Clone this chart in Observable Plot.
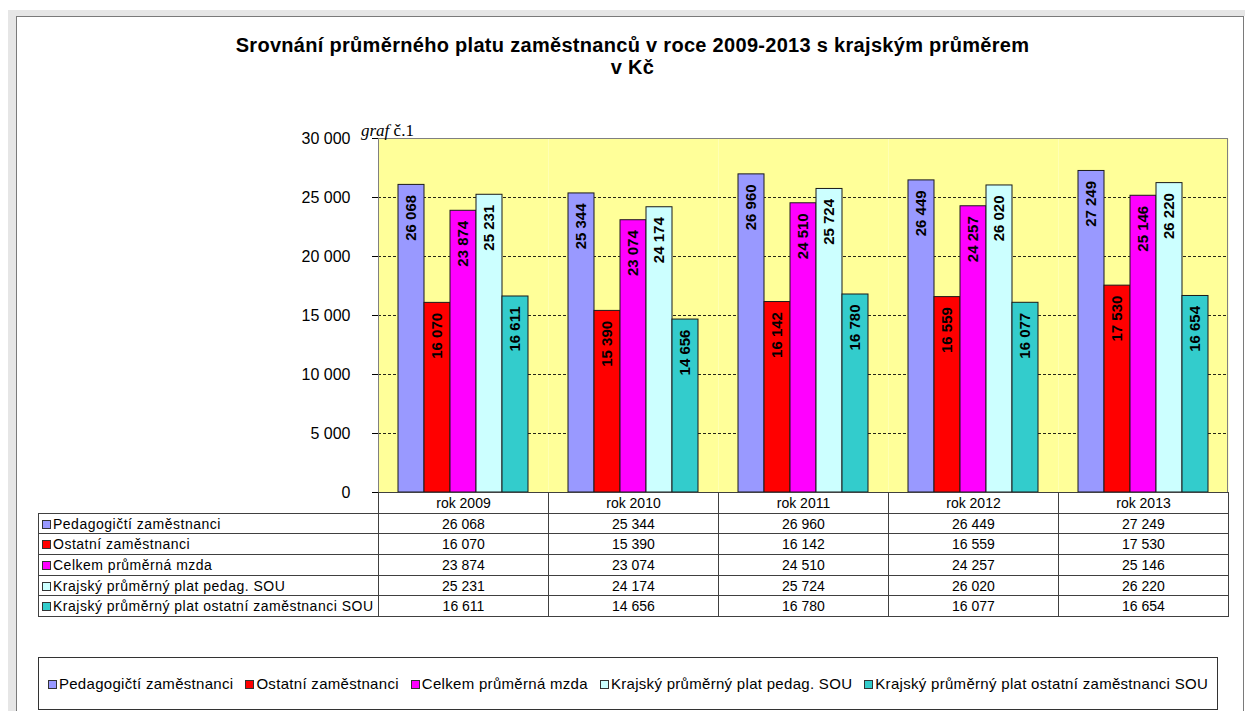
<!DOCTYPE html>
<html><head><meta charset="utf-8">
<script src="https://cdn.jsdelivr.net/npm/d3@7"></script>
<script src="https://cdn.jsdelivr.net/npm/@observablehq/plot@0.6"></script>
<style>
body{margin:0;background:#fff;font-family:Arial,"Liberation Sans",sans-serif;}
#wrap{position:relative;width:1245px;height:711px;overflow:hidden;background:#fff;}
#frameA{position:absolute;left:8px;top:10px;width:1240px;height:710px;border-left:8px solid #e6e6e6;border-top:6px solid #e6e6e6;}
#frameB{position:absolute;left:16px;top:16px;width:1226px;height:700px;border-left:1px solid #7a7a7a;border-top:1px solid #7a7a7a;border-right:1px solid #7a7a7a;}
#title{position:absolute;left:20px;top:34px;width:1225px;text-align:center;font-weight:bold;font-size:20px;letter-spacing:0.3px;line-height:22px;color:#000;}
#graf{position:absolute;left:361px;top:121px;font-family:"Liberation Serif","DejaVu Serif",serif;font-size:17px;color:#000;}
#chart{position:absolute;left:0;top:0;}
#box{position:absolute;left:378px;top:138px;width:850px;height:354px;box-sizing:border-box;border:1px solid #808080;border-bottom:none;pointer-events:none;}
#dt{position:absolute;left:38px;top:492px;border-collapse:collapse;font-size:14px;color:#000;table-layout:fixed;}
#dt td{border:1px solid #404040;padding:0;height:19.7px;line-height:14px;text-align:center;white-space:nowrap;}
#dt td.lab{text-align:left;letter-spacing:0.5px;padding-left:3px;}
#dt td.blank{border:none;}
.sq{display:inline-block;width:7px;height:7px;border:1px solid #333;margin-right:2px;vertical-align:0px;}
#legend{position:absolute;left:38px;top:657px;width:1180px;height:53px;box-sizing:border-box;border:1px solid #333;display:flex;align-items:center;justify-content:center;gap:12px;font-size:15px;letter-spacing:0.3px;color:#000;white-space:nowrap;}
</style></head><body>
<div id="wrap">
  <div id="frameA"></div><div id="frameB"></div>
  <div id="title">Srovnání průměrného platu zaměstnanců v roce 2009-2013 s krajským průměrem<br>v Kč</div>
  <div id="chart"></div>
  <div id="box"></div>
  <div id="graf"><i>graf</i> č.1</div>
  <table id="dt"></table>
  <div id="legend"></div>
</div>
<script>
const years = ["rok 2009", "rok 2010", "rok 2011", "rok 2012", "rok 2013"];
const series = ["Pedagogičtí zaměstnanci", "Ostatní zaměstnanci", "Celkem průměrná mzda", "Krajský průměrný plat pedag. SOU", "Krajský průměrný plat ostatní zaměstnanci SOU"];
const pedagogicti = [26068, 25344, 26960, 26449, 27249];
const ostatni = [16070, 15390, 16142, 16559, 17530];
const celkem = [23874, 23074, 24510, 24257, 25146];
const krajPedag = [25231, 24174, 25724, 26020, 26220];
const krajOstatni = [16611, 14656, 16780, 16077, 16654];
const colors = ["#9999FF", "#FF0000", "#FF00FF", "#CCFFFF", "#33CCCC"];
const yTicks = [0, 5000, 10000, 15000, 20000, 25000, 30000];
const gridTicks = [5000, 10000, 15000, 20000, 25000];

const values = [pedagogicti, ostatni, celkem, krajPedag, krajOstatni];
const data = years.flatMap((yr, i) => series.map((s, j) => ({year: yr, series: s, value: values[j][i]})));
const fmt = v => d3.format(",")(v).replace(/,/g, " ");

const chart = Plot.plot({
  width: 1245, height: 493,
  marginLeft: 378, marginRight: 17, marginTop: 138, marginBottom: 1,
  style: {fontFamily: "Arial, 'Liberation Sans', sans-serif", fontSize: "16px", background: "transparent", color: "#000", overflow: "visible"},
  fx: {domain: years, padding: 0, axis: null},
  x: {domain: series, paddingInner: 0, paddingOuter: 0.75, axis: null},
  y: {domain: [0, 30000], axis: null},
  color: {domain: series, range: colors},
  marks: [
    Plot.frame({fill: "#FFFF99", stroke: "none"}),
    Plot.gridY(gridTicks, {stroke: "#000", strokeOpacity: 0.85, strokeDasharray: "3,2"}),
    Plot.barY(data, {fx: "year", x: "series", y: "value", fill: "series", stroke: "#1a1a1a", strokeWidth: 1}),
    Plot.text(data, {fx: "year", x: "series", y: "value", text: d => fmt(d.value), rotate: -90, textAnchor: "end", dy: 10, fontSize: 15, fontWeight: "bold", fill: "#000"}),
    Plot.ruleY([0], {stroke: "#000"}),
    Plot.axisY({ticks: yTicks, tickFormat: fmt, tickSize: 6, tickPadding: 22, fontSize: 16, anchor: "left", label: null})
  ]
});
document.getElementById("chart").appendChild(chart);

// data table
const table = d3.select("#dt");
const colgroup = table.append("colgroup");
colgroup.append("col").style("width", "340px");
years.forEach(() => colgroup.append("col").style("width", "170px"));
const head = table.append("tr");
head.append("td").attr("class", "blank");
years.forEach(y => head.append("td").text(y));
series.forEach((s, j) => {
  const tr = table.append("tr");
  const lab = tr.append("td").attr("class", "lab");
  lab.append("span").attr("class", "sq").style("background", colors[j]);
  lab.append("span").text(s);
  values[j].forEach(v => tr.append("td").text(fmt(v)));
});

// legend
const legend = d3.select("#legend");
series.forEach((s, j) => {
  const it = legend.append("span");
  it.append("span").attr("class", "sq").style("background", colors[j]);
  it.append("span").text(s);
});
</script>
</body></html>
